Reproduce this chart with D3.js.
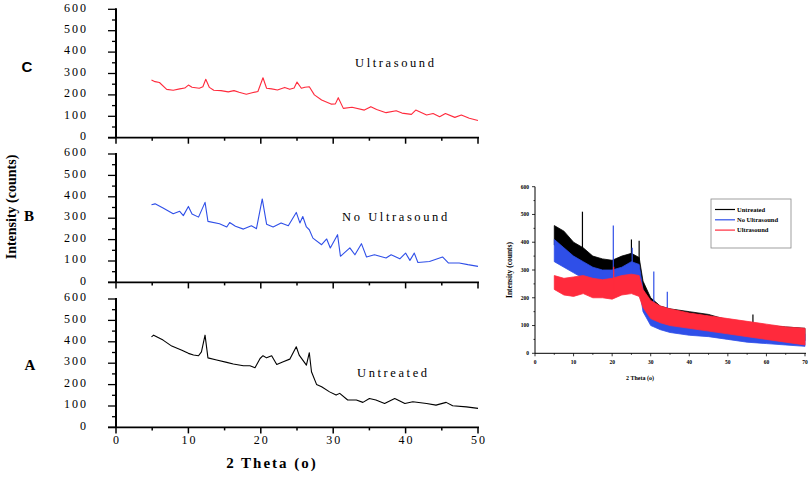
<!DOCTYPE html>
<html>
<head>
<meta charset="utf-8">
<script src="https://cdn.jsdelivr.net/npm/d3@7"></script>
<style>
  body { margin: 0; background: #fff; }
  text { font-family: "Liberation Serif", "DejaVu Serif", serif; fill: #000; }
</style>
</head>
<body>
<div class="chart"></div>
<script>
// XRD patterns: stacked panels (left) + overlay inset (right)

// ---- stacked panel data [2theta, counts] ----
const ultrasoundPts = [[4.9,270],[5.4,262],[6,258],[7,226],[7.9,222],[8.8,228],[9.5,232],[10,246],[10.5,236],[11.5,231],[12,238],[12.4,273],[12.9,235],[13.5,222],[14.5,220],[15.5,214],[16.3,220],[17,212],[18,203],[18.8,210],[19.6,216],[20.3,280],[20.8,231],[21.5,228],[22.3,223],[23.3,235],[24,226],[24.6,232],[25,260],[25.6,231],[26.1,236],[26.7,238],[27.4,200],[28.4,176],[29.7,157],[30.3,158],[30.7,187],[31.4,137],[32.6,142],[34.3,129],[35.2,145],[36,132],[37.3,117],[38.7,126],[39.5,115],[40.8,109],[41.4,129],[42.9,106],[43.8,113],[44.7,98],[45.5,113],[46.8,95],[47.7,106],[48.8,91],[50,80]];
const noUltrasoundPts = [[4.9,363],[5.4,367],[6.5,348],[7.9,321],[8.8,332],[9.3,312],[10,355],[10.5,320],[11.4,305],[12.3,374],[12.7,285],[14.3,274],[15.3,259],[15.7,280],[16.5,262],[17.6,249],[18.7,265],[19.4,251],[20.2,390],[20.8,272],[21.7,259],[22.8,278],[23.8,265],[24.9,327],[25.4,278],[25.8,308],[26.3,259],[26.7,246],[27.2,207],[28.4,176],[29.1,203],[29.6,161],[30.6,223],[31,122],[32.3,161],[33,129],[33.9,181],[34.6,119],[35.7,129],[37.3,114],[38,129],[39.2,110],[40,137],[40.6,103],[41.2,137],[41.7,93],[43.3,98],[45.1,119],[45.9,91],[47.4,91],[48.6,83],[50,75]];
const untreatedPts = [[4.9,423],[5.2,431],[6.5,408],[7.7,380],[9.1,361],[10,346],[10.7,338],[11.4,335],[11.8,353],[12.3,431],[12.7,325],[13.9,315],[15.3,304],[16.2,296],[17.6,288],[18.5,288],[19.2,279],[19.9,322],[20.3,335],[20.8,325],[21.5,335],[22.2,294],[23.1,307],[24,319],[24.9,377],[25.3,338],[26.3,291],[26.7,349],[27,260],[27.7,201],[28.4,190],[29.5,166],[30.4,151],[30.9,159],[32,128],[33.2,128],[34.1,117],[35,135],[35.9,128],[37.1,112],[38.5,135],[39.9,112],[41,120],[42.9,112],[44.2,104],[45.6,117],[46.5,101],[48.4,96],[50,89]];

const panelLetters = ["C", "B", "A"];
const panelNames = ["Ultrasound", "No Ultrasound", "Untreated"];
const yTicks = [0, 100, 200, 300, 400, 500, 600];
const xTicks = [0, 10, 20, 30, 40, 50];

// ---- inset data (noise envelope, counts) ----
const insetTheta = [5,7.5,10,12.5,15,17.5,20,22.5,25,27,28,30,32.5,35,40,45,50,55,60,65,70];
const untreatedHi = [460,440,400,380,350,340,335,350,360,345,260,200,170,160,150,140,120,110,100,95,90];
const untreatedLo = [390,370,340,320,300,290,280,290,290,275,170,120,100,90,90,80,70,60,55,50,45];
const noUltraHi = [410,380,350,330,310,300,300,310,330,320,230,170,150,140,130,115,100,90,80,75,70];
const noUltraLo = [330,310,290,270,250,245,240,245,250,240,150,100,85,75,65,60,50,40,35,30,25];
const ultraHi = [280,270,275,280,270,265,270,280,285,280,230,190,170,160,145,135,125,115,105,95,90];
const ultraLo = [230,210,205,215,200,200,195,210,215,205,165,125,110,100,90,80,70,60,50,40,30];
// spikes [2theta, base, top]
const untreatedSpikes = [[12.3,330,510],[25,330,410],[27,300,405],[56.5,100,140]];
const noUltraSpikes = [[20.3,260,460],[25.2,280,380],[30.8,140,295],[34.3,110,222]];
const ultraSpikes = [[20.4,220,312]];
const insetXTicks = [0,10,20,30,40,50,60,70];
const legendNames = ["Untreated", "No Ultrasound", "Ultrasound"];

const colors = { black: "#000", blue: "#2f4fe8", red: "#ff2a3c" };

const svg = d3.select(".chart").append("svg")
    .attr("width", 810).attr("height", 478);

// ---------- left stacked panels ----------
const x = d3.scaleLinear().domain([0, 50]).range([116, 478]);
const panelTops = [9.3, 154, 299];
const panelH = 128.4;
const series = [ultrasoundPts, noUltrasoundPts, untreatedPts];
const seriesColors = [colors.red, colors.blue, colors.black];
const nameX = [355, 342, 357], nameY = [63, 217, 373];
const letterX = [27, 29, 30], letterY = [67, 216, 365];

panelTops.forEach((top, i) => {
    const y = d3.scaleLinear().domain([0, 600]).range([top + panelH, top]);
    const g = svg.append("g");

    // y axis: major 100, minor 50
    g.append("line").attr("x1", 116).attr("x2", 116)
        .attr("y1", y(600) - 1).attr("y2", y(0))
        .attr("stroke", "#000").attr("stroke-width", 2);
    d3.range(0, 601, 50).forEach(v => {
        g.append("line").attr("x1", v % 100 === 0 ? 108 : 112).attr("x2", 116)
            .attr("y1", y(v)).attr("y2", y(v))
            .attr("stroke", "#000").attr("stroke-width", 1.3);
    });
    yTicks.forEach(v => {
        g.append("text").attr("x", 88).attr("y", y(v) - 2)
            .attr("text-anchor", "end").attr("dy", "0.35em")
            .style("font-size", "12px").style("letter-spacing", "2px")
            .text(v);
    });

    // x axis: major 10, minor 5
    g.append("line").attr("x1", 108).attr("x2", 479)
        .attr("y1", y(0)).attr("y2", y(0))
        .attr("stroke", "#000").attr("stroke-width", 1.8);
    d3.range(0, 51, 5).forEach(v => {
        g.append("line").attr("x1", x(v)).attr("x2", x(v))
            .attr("y1", y(0)).attr("y2", y(0) + (v % 10 === 0 ? 6 : 3))
            .attr("stroke", "#000").attr("stroke-width", 1.5);
    });
    if (i === 2) {
        xTicks.forEach(v => {
            g.append("text").attr("x", x(v) + 1).attr("y", y(0) + 17)
                .attr("text-anchor", "middle")
                .style("font-size", "12px").style("letter-spacing", "2px")
                .text(v);
        });
    }

    // pattern line
    const line = d3.line().x(d => x(d[0])).y(d => y(d[1]));
    g.append("path").datum(series[i]).attr("d", line)
        .attr("fill", "none").attr("stroke", seriesColors[i])
        .attr("stroke-width", 1.1).attr("stroke-linejoin", "round");

    g.append("text").attr("x", nameX[i]).attr("y", nameY[i])
        .attr("dy", "0.35em")
        .style("font-size", "12.5px").style("letter-spacing", "2.6px")
        .text(panelNames[i]);

    g.append("text").attr("x", letterX[i]).attr("y", letterY[i])
        .attr("text-anchor", "middle").attr("dy", "0.35em")
        .style("font-size", "15px").style("font-weight", "bold")
        .style("font-family", i === 0 ? "Liberation Sans, Arial, sans-serif" : null)
        .text(panelLetters[i]);
});

svg.append("text")
    .attr("transform", "translate(16,207) rotate(-90)")
    .attr("text-anchor", "middle")
    .style("font-size", "14px").style("font-weight", "bold")
    .text("Intensity (counts)");

svg.append("text").attr("x", 272).attr("y", 468)
    .attr("text-anchor", "middle")
    .style("font-size", "15px").style("font-weight", "bold").style("letter-spacing", "2px")
    .text("2 Theta (o)");

// ---------- inset overlay ----------
const xi = d3.scaleLinear().domain([0, 70]).range([535, 805]);
const yi = d3.scaleLinear().domain([0, 600]).range([353.3, 186.7]);
const gi = svg.append("g");

const bands = [
    [untreatedHi, untreatedLo, untreatedSpikes, colors.black],
    [noUltraHi, noUltraLo, noUltraSpikes, colors.blue],
    [ultraHi, ultraLo, ultraSpikes, colors.red]
];
bands.forEach(([hi, lo, spikes, c]) => {
    const area = d3.area().x((d, k) => xi(insetTheta[k]))
        .y0((d, k) => yi(lo[k])).y1((d, k) => yi(hi[k]));
    gi.append("path").datum(hi).attr("d", area)
        .attr("fill", c).attr("stroke", c).attr("stroke-width", 0.8);
    spikes.forEach(s => {
        gi.append("line").attr("x1", xi(s[0])).attr("x2", xi(s[0]))
            .attr("y1", yi(s[1])).attr("y2", yi(s[2]))
            .attr("stroke", c).attr("stroke-width", 1.2);
    });
});

gi.append("line").attr("x1", 535).attr("x2", 535).attr("y1", yi(600)).attr("y2", yi(0))
    .attr("stroke", "#000").attr("stroke-width", 1);
gi.append("line").attr("x1", 535).attr("x2", 806).attr("y1", yi(0)).attr("y2", yi(0))
    .attr("stroke", "#000").attr("stroke-width", 1);
d3.range(0, 601, 50).forEach(v => {
    gi.append("line").attr("x1", v % 100 === 0 ? 532 : 533.5).attr("x2", 535)
        .attr("y1", yi(v)).attr("y2", yi(v)).attr("stroke", "#000").attr("stroke-width", 0.8);
    if (v % 100 === 0) {
        gi.append("text").attr("x", 529).attr("y", yi(v))
            .attr("text-anchor", "end").attr("dy", "0.35em")
            .style("font-size", "5.5px").style("font-weight", "bold")
            .text(v);
    }
});
d3.range(0, 71, 5).forEach(v => {
    gi.append("line").attr("x1", xi(v)).attr("x2", xi(v))
        .attr("y1", yi(0)).attr("y2", yi(0) + (v % 10 === 0 ? 3 : 1.5))
        .attr("stroke", "#000").attr("stroke-width", 0.8);
});
insetXTicks.forEach(v => {
    gi.append("text").attr("x", xi(v)).attr("y", 364)
        .attr("text-anchor", "middle")
        .style("font-size", "5.5px").style("font-weight", "bold")
        .text(v);
});
gi.append("text").attr("transform", "translate(512,270) rotate(-90)")
    .attr("text-anchor", "middle")
    .style("font-size", "7.5px").style("font-weight", "bold")
    .text("Intensity (counts)");
gi.append("text").attr("x", 640).attr("y", 380)
    .attr("text-anchor", "middle")
    .style("font-size", "6px").style("font-weight", "bold")
    .text("2 Theta (o)");

// legend
const lg = gi.append("g");
lg.append("rect").attr("x", 711).attr("y", 199).attr("width", 80).attr("height", 49)
    .attr("fill", "#fff").attr("stroke", "#888").attr("stroke-width", 0.8);
legendNames.forEach((n, k) => {
    const ly = 209.5 + k * 10.3;
    lg.append("line").attr("x1", 715).attr("x2", 735).attr("y1", ly).attr("y2", ly)
        .attr("stroke", [colors.black, colors.blue, colors.red][k]).attr("stroke-width", 1.2);
    lg.append("text").attr("x", 737).attr("y", ly).attr("dy", "0.35em")
        .style("font-size", "6.5px").style("font-weight", "bold")
        .text(n);
});
</script>
</body>
</html>
